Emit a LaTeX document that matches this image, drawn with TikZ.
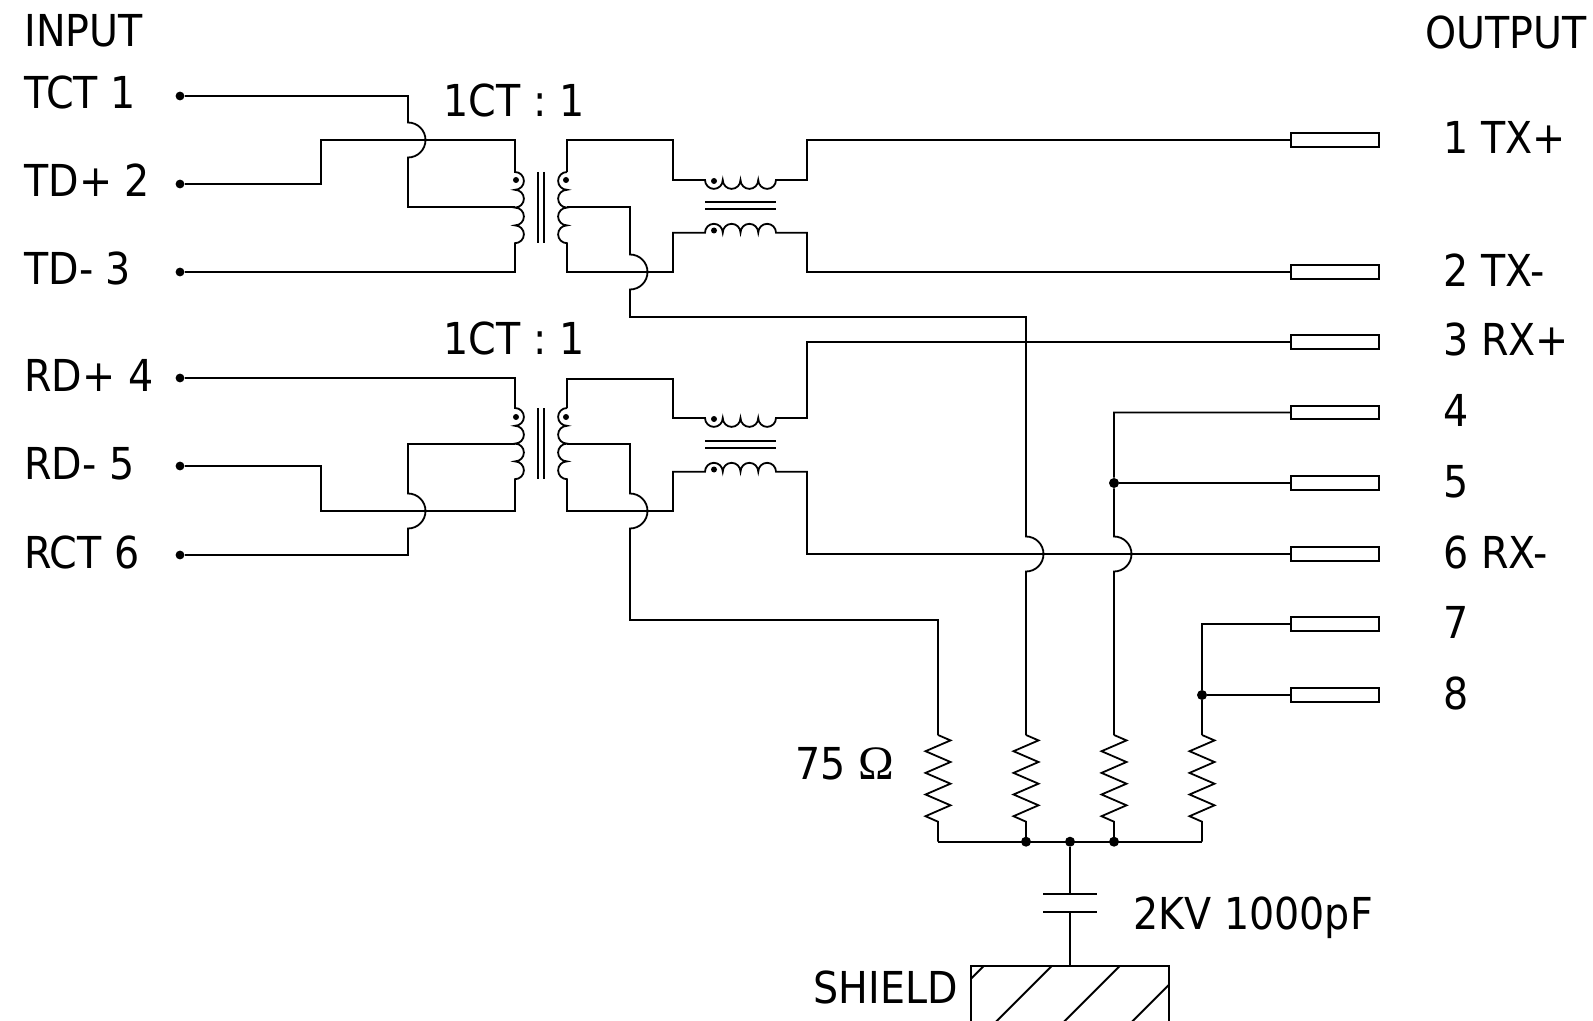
\documentclass[tikz,border=0pt]{standalone}
\usepackage{fontspec}
\setmainfont[FakeStretch=0.9]{DejaVu Sans}
\newfontfamily\omegafont{Liberation Serif}
\begin{document}
\begin{tikzpicture}[x=0.5pt,y=-0.5pt,
  wire/.style={line width=0.9pt},
  lbl/.style={inner sep=0pt, font=\fontsize{22}{26}\selectfont},
  termdot/.style={circle, fill=black, inner sep=0pt, minimum size=4.4pt},
  jdot/.style={circle, fill=black, inner sep=0pt, minimum size=5pt},
  cdot/.style={circle, fill=black, inner sep=0pt, minimum size=3pt},
  conn/.style={draw, line width=1.1pt, inner sep=0pt, minimum width=44pt, minimum height=6.8pt}]
\useasboundingbox (0,0) rectangle (1593,1021);

% ---- texts ----
\node[lbl, anchor=base west] (tin) at (24,47) {INPUT};
\node[lbl, anchor=base west] (tout) at (1425,49) {OUTPUT};
\node[lbl, anchor=base west] (l1) at (24,109) {TCT 1};
\node[lbl, anchor=base west] (l2) at (24,197) {TD+ 2};
\node[lbl, anchor=base west] (l3) at (24,285) {TD- 3};
\node[lbl, anchor=base west] (l4) at (24,391) {RD+ 4};
\node[lbl, anchor=base west] (l5) at (24,479) {RD- 5};
\node[lbl, anchor=base west] (l6) at (24,568) {RCT 6};
\node[lbl, anchor=base] (ct1) at (514,117) {1CT : 1};
\node[lbl, anchor=base] (ct2) at (514,354) {1CT : 1};
\node[lbl, anchor=base west] (r1l) at (1443,154) {1 TX+};
\node[lbl, anchor=base west] (r2l) at (1443,286) {2 TX-};
\node[lbl, anchor=base west] (r3l) at (1443,356) {3 RX+};
\node[lbl, anchor=base west] (r4l) at (1443,426.5) {4};
\node[lbl, anchor=base west] (r5l) at (1443,497) {5};
\node[lbl, anchor=base west] (r6l) at (1443,568) {6 RX-};
\node[lbl, anchor=base west] (r7l) at (1443,638) {7};
\node[lbl, anchor=base west] (r8l) at (1443,709) {8};
\node[lbl, anchor=base west] (rlab) at (795,779) {75 {\omegafont\fontsize{24}{26}\selectfont Ω}};
\node[lbl, anchor=base west] (clab) at (1133,929) {2KV 1000pF};
\node[lbl, anchor=base west] (slab) at (813,1003) {SHIELD};

% ---- input terminals ----
\node[termdot] (i1) at (180,96) {};
\node[termdot] (i2) at (180,184) {};
\node[termdot] (i3) at (180,272) {};
\node[termdot] (i4) at (180,378) {};
\node[termdot] (i5) at (180,466) {};
\node[termdot] (i6) at (180,555) {};

% ---- output connectors ----
\node[conn] (o1) at (1335,140) {};
\node[conn] (o2) at (1335,272) {};
\node[conn] (o3) at (1335,342) {};
\node[conn] (o4) at (1335,412.5) {};
\node[conn] (o5) at (1335,483) {};
\node[conn] (o6) at (1335,554) {};
\node[conn] (o7) at (1335,624) {};
\node[conn] (o8) at (1335,695) {};

% ---- junction dots ----
\node[jdot] (j5) at (1114,483) {};
\node[jdot] (j8) at (1202,695) {};
\node[jdot] (b1) at (1026,841.7) {};
\node[jdot] (b2) at (1070,841.7) {};
\node[jdot] (b3) at (1114,841.7) {};

% ---- coil polarity dots ----
\node[cdot] at (516,180) {};
\node[cdot] at (566,180) {};
\node[cdot] at (714,181) {};
\node[cdot] at (714,230.5) {};
\node[cdot] at (516,417) {};
\node[cdot] at (566,417) {};
\node[cdot] at (714,419) {};
\node[cdot] at (714,469.5) {};

% ================= upper transformer =================
\draw[wire] (i1) -- (408,96) -- (408,122.5) arc[start angle=90,end angle=-90,radius=8.75pt] -- (408,207) -- (515,207);
\draw[wire] (i2) -- (321,184) -- (321,140) -- (515,140) -- (515,172)
  \foreach \k in {1,...,4} { arc[start angle=90,end angle=-90,radius=4.45pt] } -- (515,272) -- (i3);
\draw[wire] (537.7,172) -- (537.7,243.3) (544.3,172) -- (544.3,243.3);
\draw[wire] (567,172) -- (567,140) -- (673,140) -- (673,180) -- (705,180)
  \foreach \k in {1,...,4} { arc[start angle=180,end angle=360,radius=4.4375pt] } -- (807,180) -- (807,140) -- (o1.west);
\draw[wire] (567,172) \foreach \k in {1,...,4} { arc[start angle=90,end angle=270,radius=4.45pt] }
  -- (567,272) -- (673,272) -- (673,232.7) -- (705,232.7)
  \foreach \k in {1,...,4} { arc[start angle=180,end angle=0,radius=4.4375pt] } -- (807,232.7) -- (807,272) -- (o2.west);
\draw[wire] (705,201.7) -- (776,201.7) (705,209.3) -- (776,209.3);
\draw[wire] (567,207) -- (630,207) -- (630,254.5) arc[start angle=90,end angle=-90,radius=8.75pt]
  -- (630,317) -- (1026,317) -- (1026,536.5) arc[start angle=90,end angle=-90,radius=8.75pt] -- (1026,735);

% ================= lower transformer =================
\draw[wire] (i4) -- (515,378) -- (515,408)
  \foreach \k in {1,...,4} { arc[start angle=90,end angle=-90,radius=4.45pt] } -- (515,511) -- (321,511) -- (321,466) -- (i5);
\draw[wire] (515,444) -- (408,444) -- (408,493.5) arc[start angle=90,end angle=-90,radius=8.75pt] -- (408,555) -- (i6);
\draw[wire] (537.7,408) -- (537.7,479.3) (544.3,408) -- (544.3,479.3);
\draw[wire] (567,408) -- (567,379) -- (673,379) -- (673,418) -- (705,418)
  \foreach \k in {1,...,4} { arc[start angle=180,end angle=360,radius=4.4375pt] } -- (807,418) -- (807,342) -- (o3.west);
\draw[wire] (567,408) \foreach \k in {1,...,4} { arc[start angle=90,end angle=270,radius=4.45pt] }
  -- (567,511) -- (673,511) -- (673,471.7) -- (705,471.7)
  \foreach \k in {1,...,4} { arc[start angle=180,end angle=0,radius=4.4375pt] } -- (807,471.7) -- (807,554) -- (o6.west);
\draw[wire] (705,441) -- (776,441) (705,448.3) -- (776,448.3);
\draw[wire] (567,444) -- (630,444) -- (630,493.5) arc[start angle=90,end angle=-90,radius=8.75pt]
  -- (630,620) -- (938,620) -- (938,735);

% ================= outputs 4,5,7,8 =================
\draw[wire] (o4.west) -- (1114,412.5) -- (j5) -- (1114,536.5) arc[start angle=90,end angle=-90,radius=8.75pt] -- (1114,735);
\draw[wire] (o5.west) -- (j5);
\draw[wire] (o7.west) -- (1202,624) -- (j8) -- (1202,735);
\draw[wire] (o8.west) -- (j8);

% ================= resistors =================
\foreach \x in {938,1026,1114,1202} {
  \draw[wire] (\x,735) -- (\x+12.5,740.4) -- (\x-12.5,751.2) -- (\x+12.5,762) -- (\x-12.5,772.9)
    -- (\x+12.5,783.7) -- (\x-12.5,794.5) -- (\x+12.5,805.3) -- (\x-12.5,816.2) -- (\x,821.7) -- (\x,841.7);
}
\draw[wire] (938,841.7) -- (1202,841.7);

% ================= capacitor and shield =================
\draw[wire] (b2) -- (1070,894.3);
\draw[wire] (1043.3,894.3) -- (1096.7,894.3) (1043.3,912.3) -- (1096.7,912.3);
\draw[wire] (1070,912.3) -- (1070,965.7);
\draw[wire] (970.7,1040) -- (970.7,965.7) -- (1169.3,965.7) -- (1169.3,1040);
\begin{scope}
  \clip (970.7,965.7) rectangle (1169.3,1040);
  \foreach \t in {984,1052,1120,1188} { \draw[wire] (\t,965.7) -- ++(-120,120); }
\end{scope}
\end{tikzpicture}
\end{document}
